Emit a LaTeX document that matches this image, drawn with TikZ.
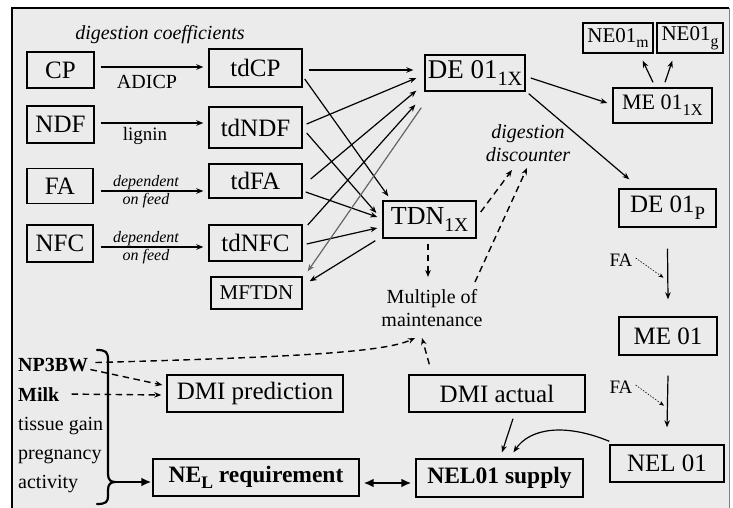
\documentclass[tikz,border=0pt]{standalone}
\usepackage{fontspec}
\setmainfont{Liberation Serif}
\usetikzlibrary{arrows.meta,calc}
\definecolor{bgc}{HTML}{EBEBEB}
\newcommand\sbx[1]{\raisebox{-0.28em}{\scalebox{0.75}{#1}}}
\newcommand\fsz[1]{\fontsize{#1}{#1}\selectfont}
\begin{document}
\begin{tikzpicture}[x=1pt,y=-1pt,
  box/.style={draw, line width=1.4pt, inner sep=0pt, text=black, font=\fsz{25}},
  lbl/.style={inner sep=0pt, text=black},
  arr/.style={-{Stealth[length=7pt,width=5.5pt]}, line width=1.2pt},
  garr/.style={arr, draw=gray!80!black},
  darr/.style={arr, line width=1.4pt, dash pattern=on 6.5pt off 4.5pt},
  dotarr/.style={-{Stealth[length=5pt,width=4pt]}, line width=0.6pt, dash pattern=on 1.5pt off 1.5pt},
  tarr/.style={-{Latex[length=10pt,width=9pt]}, line width=2.8pt},
  tdarr/.style={{Latex[length=10pt,width=9pt]}-{Latex[length=10pt,width=9pt]}, line width=2.8pt}
]
\useasboundingbox (0,0) rectangle (733,508);
\fill[white] (0,0) rectangle (733,508);
\fill[bgc] (12,8) rectangle (729,508);
\draw[line width=2pt] (12,508) -- (12,8) -- (729,8);
\draw[gray, line width=0.8pt] (729,8) -- (729,508);

% boxes
\node[box, minimum width=67pt, minimum height=36pt] (CP) at (60.5,70) {CP};
\node[box, minimum width=93pt, minimum height=38pt] (tdCP) at (255.5,68) {tdCP};
\node[box, minimum width=67pt, minimum height=37pt] (NDF) at (60.5,124.5) {NDF};
\node[box, minimum width=93pt, minimum height=41pt] (tdNDF) at (255.5,127.5) {tdNDF};
\node[box, minimum width=66pt, minimum height=35pt] (FA) at (60,186) {FA};
\node[box, minimum width=93pt, minimum height=34pt] (tdFA) at (255.5,181) {tdFA};
\node[box, minimum width=66pt, minimum height=37pt] (NFC) at (60,243.5) {NFC};
\node[box, minimum width=93pt, minimum height=36pt] (tdNFC) at (255.5,243) {tdNFC};
\node[box, minimum width=91pt, minimum height=32pt, font=\fsz{21}] (MFTDN) at (256.5,293) {MFTDN};
\node[box, minimum width=100pt, minimum height=36pt, font=\fsz{27}] (DE) at (475,73) {DE 01\sbx{1X}};
\node[box, minimum width=93pt, minimum height=37pt, font=\fsz{26}] (TDN) at (429.5,219.5) {TDN\sbx{1X}};
\node[box, minimum width=70pt, minimum height=30pt, font=\fsz{21}] (NEm) at (618,38) {NE01\sbx{m}};
\node[box, minimum width=66pt, minimum height=30pt, font=\fsz{21}] (NEg) at (690,38) {NE01\sbx{g}};
\node[box, minimum width=99pt, minimum height=35pt, font=\fsz{22}] (ME1X) at (662.5,105.5) {ME 01\sbx{1X}};
\node[box, minimum width=97pt, minimum height=38pt] (DEP) at (667.5,208) {DE 01\sbx{P}};
\node[box, minimum width=98pt, minimum height=38pt] (ME01) at (668,336) {ME 01};
\node[box, minimum width=114pt, minimum height=37pt] (NEL01) at (667,463.5) {NEL 01};
\node[box, minimum width=176pt, minimum height=37pt] (DMIact) at (497,393.5) {DMI actual};
\node[box, minimum width=167pt, minimum height=38pt, font=\fsz{23.5}\bfseries] (NELsup) at (499.5,478) {NEL01 supply};
\node[box, minimum width=206pt, minimum height=37pt, font=\fsz{23.5}\bfseries] (NELreq) at (256,477.5) {NE\sbx{L} requirement};
\node[box, minimum width=176pt, minimum height=37pt] (DMIpred) at (255,393.5) {DMI prediction};

% labels
\node[lbl, font=\fsz{20}\itshape] (digcoef) at (160,35) {digestion coefficients};
\node[lbl, font=\fsz{20}] (adicp) at (147,82) {ADICP};
\node[lbl, font=\fsz{19}] (lignin) at (145,136) {lignin};
\node[lbl, align=center, font=\fontsize{16}{18}\selectfont\itshape] (dep1) at (146,192) {dependent\\on feed};
\node[lbl, align=center, font=\fontsize{16}{18}\selectfont\itshape] (dep2) at (146,248) {dependent\\on feed};
\node[lbl, align=center, font=\fontsize{20}{23}\selectfont\itshape] (digdisc) at (528,143) {digestion\\discounter};
\node[lbl, align=center, font=\fontsize{20}{23}\selectfont] (mult) at (432,308) {Multiple of\\maintenance};
\node[lbl, font=\fsz{19}] (fa1) at (621,260) {FA};
\node[lbl, font=\fsz{19}] (fa2) at (621,387) {FA};

\node[lbl, anchor=base west, font=\fsz{20}\bfseries] (np3bw) at (18,371) {NP3BW};
\node[lbl, anchor=base west, font=\fsz{20}\bfseries] (milk) at (18,401) {Milk};
\node[lbl, anchor=base west, font=\fsz{20}] (tissue) at (18,430) {tissue gain};
\node[lbl, anchor=base west, font=\fsz{20}] (preg) at (18,459) {pregnancy};
\node[lbl, anchor=base west, font=\fsz{20}] (act) at (18,488) {activity};

% input arrows
\draw[arr] ($(CP.east)+(6,-3)$) -- ($(tdCP.west)+(-5,-1)$);
\draw[arr] ($(NDF.east)+(6,-1.5)$) -- ($(tdNDF.west)+(-5,-4.5)$);
\draw[arr] ($(FA.east)+(7,5)$) -- ($(tdFA.west)+(-5,10)$);
\draw[arr] ($(NFC.east)+(7,3.5)$) -- ($(tdNFC.west)+(-5,4)$);

% td -> DE / TDN
\draw[arr] ($(tdCP.east)+(6,2)$) -- ($(DE.west)+(-11,-3)$);
\draw[arr] ($(tdCP.east)+(2,11)$) -- ($(TDN.north west)+(6,-4)$);
\draw[arr] ($(tdNDF.east)+(4,-3.5)$) -- ($(DE.west)+(-8,5)$);
\draw[arr] ($(tdNDF.east)+(4,5.5)$) -- ($(TDN.west)+(-6,-6.5)$);
\draw[arr] ($(tdFA.east)+(8,-2)$) -- ($(DE.south west)+(-8,-1)$);
\draw[arr] ($(tdFA.east)+(3,11)$) -- ($(TDN.west)+(-5,-2.5)$);
\draw[arr] ($(tdNFC.east)+(5,-18)$) -- ($(DE.south west)+(-9,13)$);
\draw[arr] ($(tdNFC.east)+(4,1)$) -- ($(TDN.west)+(-5,8.5)$);
\draw[arr] ($(TDN.south west)+(-7,2)$) -- ($(MFTDN.north east)+(7,5)$);
\draw[garr] ($(DE.south west)+(-3,16)$) -- ($(MFTDN.north east)+(5,-5)$);

% DE chain
\draw[arr] ($(DE.east)+(5,5)$) -- ($(ME1X.west)+(-5,-2.5)$);
\draw[arr] ($(DE.south east)+(3,2)$) -- ($(DEP.north west)+(11,-9)$);
\draw[arr] ($(ME1X.north)+(-9.5,-5)$) -- ($(NEm.south east)+(-11,7)$);
\draw[arr] ($(ME1X.north)+(2.5,-5)$) -- ($(NEg.south west)+(16,7)$);

% TDN dashed
\draw[darr] ($(TDN.east)+(4,-7.5)$) -- ($(digdisc.center)+(-16,27)$);
\draw[darr] ($(mult.center)+(43,-26)$) -- ($(digdisc.center)+(-1,25)$);
\draw[darr] ($(TDN.south)+(-1.5,5)$) -- ($(mult.center)+(-4,-31)$);
\draw[darr] ($(DMIact.north west)+(21,-10)$) -- ($(mult.center)+(-10,30)$);

% right column
\coordinate (fa1t) at ($(DEP.south)+(-4,50)$);
\coordinate (fa2t) at ($(ME01.south)+(-4,50)$);
\draw[arr] ($(DEP.south)+(0,21)$) -- ($(ME01.north)+(0,-17)$);
\draw[arr] ($(ME01.south)+(0,20)$) -- ($(NEL01.north)+(0,-17)$);
\draw[dotarr] ($(fa1.east)+(3,-2)$) -- (fa1t);
\draw[dotarr] ($(fa2.east)+(3,-2)$) -- (fa2t);
\draw[arr] ($(NEL01.north west)+(0,-3)$) .. controls (565,423) and (530,428) .. ($(NELsup.north)+(14,-6)$);
\draw[arr] ($(DMIact.south)+(16,6)$) -- ($(NELsup.north)+(2.5,-6)$);

% left inputs
\draw[darr] ($(np3bw.east)+(7,-2)$) .. controls (300,357) and (385,352) .. ($(mult.center)+(-17,30)$);
\draw[darr] ($(np3bw.east)+(2,5)$) -- ($(DMIpred.west)+(-4,-8.5)$);
\draw[darr] ($(milk.east)+(12,0)$) -- ($(DMIpred.west)+(-5,1.5)$);

% brace
\coordinate (btip) at (115,482);
\draw[line width=2.2pt, line cap=round] (97,350) .. controls (106,350) and (108,352) .. (108,360) -- (108,474) .. controls (108,480) and (111,482) .. (btip) .. controls (111,482) and (108,484) .. (108,490) -- (108,496) .. controls (108,502) and (106,504) .. (97,504);
\draw[tarr] (btip) -- ($(NELreq.west)+(-1,4.5)$);
\draw[tdarr] ($(NELreq.east)+(4,5.5)$) -- ($(NELsup.west)+(-4,5)$);
\end{tikzpicture}
\end{document}
